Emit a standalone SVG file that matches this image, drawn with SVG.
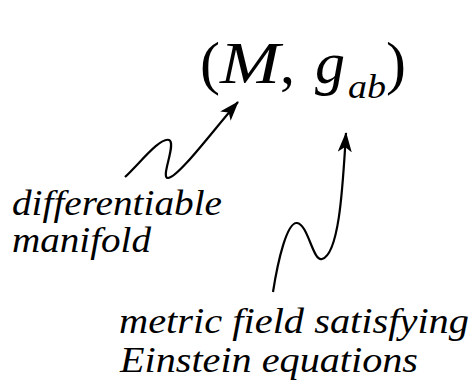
<svg xmlns="http://www.w3.org/2000/svg" width="473" height="385" viewBox="0 0 473 385">
<defs>
<marker id="ah" viewBox="0 0 20 14" refX="19" refY="7" markerWidth="20" markerHeight="14" markerUnits="userSpaceOnUse" orient="auto">
<path d="M0,0 L20,7 L0,14 L5,7 Z" fill="#000"/>
</marker>
<style>
.t{font-family:"Liberation Serif","DejaVu Serif",serif;fill:#000}
.i{font-style:italic}
.c{fill:none;stroke:#000;stroke-width:2.2;stroke-linecap:butt}
</style>
</defs>
<rect width="473" height="385" fill="#fff"/>
<g id="title">
<text class="t" font-size="60" y="83"><tspan x="200">(</tspan><tspan x="220" class="i" textLength="60" lengthAdjust="spacingAndGlyphs">M</tspan><tspan x="280">,</tspan><tspan x="315" class="i">g</tspan><tspan x="348" y="98" class="i" font-size="34" textLength="38" lengthAdjust="spacingAndGlyphs">ab</tspan><tspan x="386" y="83">)</tspan></text>
</g>
<g id="label-manifold">
<text class="t i" font-size="35" x="12" y="215" textLength="210" lengthAdjust="spacingAndGlyphs">differentiable</text>
<text class="t i" font-size="35" x="12" y="252" textLength="139" lengthAdjust="spacingAndGlyphs">manifold</text>
</g>
<g id="label-metric">
<text class="t i" font-size="35" x="119" y="333" textLength="350" lengthAdjust="spacingAndGlyphs">metric field satisfying</text>
<text class="t i" font-size="35" x="120" y="372" textLength="298" lengthAdjust="spacingAndGlyphs">Einstein equations</text>
</g>
<g id="connectors">
<path class="c" marker-end="url(#ah)" d="M125,177 C140,163 160,137 169,140 C177,143 160,178 168,178 C178,178 215,128 238,102" />
<path class="c" marker-end="url(#ah)" d="M273,292 C278,260 287,222 297,223 C308,224 313,262 322,259 C340,254 343,180 346,133" />
</g>
</svg>
